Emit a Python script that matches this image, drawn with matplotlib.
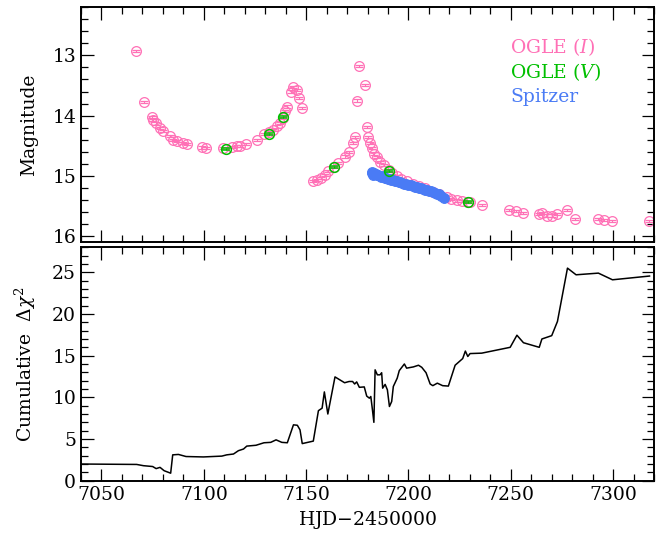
import numpy as np
import matplotlib
matplotlib.use('Agg')
import matplotlib.pyplot as plt
from matplotlib.ticker import MultipleLocator

plt.rcParams['font.family'] = ['DejaVu Serif']
plt.rcParams['mathtext.fontset'] = 'dejavuserif'

pink  = '#ff70b6'
green = '#00c000'
blue  = '#4a7bf5'

# OGLE I-band photometry
t_I = [7066.9, 7070.9, 7074.5, 7075.3, 7076.7, 7078.6, 7080.2, 7083.5, 7084.8, 7087.1,
       7090.0, 7091.7, 7099.0, 7100.9, 7109.3, 7113.6, 7116.1, 7117.7, 7120.5, 7125.9,
       7129.6, 7131.9, 7134.0, 7135.6, 7137.3, 7138.9, 7139.7, 7140.8, 7142.5, 7143.8,
       7145.7, 7146.7, 7147.9, 7153.5, 7155.2, 7157.2, 7159.3, 7160.9, 7163.8, 7165.8,
       7169.0, 7170.7, 7172.8, 7173.8, 7174.7, 7175.7, 7178.6, 7179.9, 7180.4, 7181.3,
       7182.1, 7183.2, 7184.5, 7186.1, 7188.0, 7190.7, 7192.0, 7194.3, 7196.5, 7199.2,
       7202.0, 7205.0, 7208.0, 7212.2, 7215.0, 7218.7, 7221.0, 7223.6, 7226.0, 7229.0,
       7230.1, 7235.8, 7249.3, 7252.6, 7255.9, 7264.0, 7265.1, 7267.6, 7270.0, 7272.8,
       7277.4, 7281.4, 7292.5, 7295.6, 7299.7, 7317.6]
m_I = [12.92, 13.77, 14.03, 14.07, 14.13, 14.21, 14.26, 14.34, 14.40, 14.42,
       14.45, 14.47, 14.53, 14.54, 14.54, 14.52, 14.50, 14.50, 14.47, 14.41,
       14.31, 14.28, 14.24, 14.18, 14.12, 14.04, 13.93, 13.85, 13.60, 13.52,
       13.57, 13.71, 13.88, 15.09, 15.07, 15.03, 14.99, 14.92, 14.85, 14.79,
       14.68, 14.61, 14.46, 14.35, 13.75, 13.17, 13.49, 14.19, 14.36, 14.46,
       14.54, 14.63, 14.69, 14.77, 14.82, 14.90, 14.96, 15.01, 15.05, 15.09,
       15.13, 15.17, 15.21, 15.27, 15.31, 15.36, 15.38, 15.41, 15.42, 15.44,
       15.44, 15.49, 15.57, 15.58, 15.62, 15.64, 15.62, 15.66, 15.66, 15.63,
       15.57, 15.72, 15.72, 15.74, 15.75, 15.75]

# OGLE V-band photometry
t_V = [7110.7, 7131.9, 7138.9, 7163.8, 7190.7, 7229.0]
m_V = [14.55, 14.30, 14.02, 14.86, 14.92, 15.44]

# Spitzer photometry
t_S = [7182.0, 7182.3, 7182.8, 7183.3, 7184.0, 7184.6, 7185.3, 7186.0, 7186.8, 7187.5,
       7188.3, 7189.0, 7190.0, 7190.8, 7191.7, 7192.5, 7193.5, 7194.3, 7195.2, 7196.0,
       7197.0, 7198.0, 7199.0, 7200.0, 7201.0, 7202.0, 7203.0, 7204.0, 7205.0, 7206.0,
       7207.0, 7208.0, 7209.0, 7210.0, 7211.0, 7212.0, 7213.0, 7214.0, 7215.0, 7216.0,
       7217.5]
m_S = [14.95, 14.93, 14.98, 14.95, 14.97, 14.99, 14.98, 15.00, 15.02, 15.01,
       15.03, 15.04, 15.05, 15.06, 15.07, 15.07, 15.09, 15.09, 15.10, 15.11,
       15.12, 15.13, 15.14, 15.15, 15.16, 15.17, 15.18, 15.19, 15.20, 15.21,
       15.22, 15.23, 15.24, 15.25, 15.26, 15.27, 15.28, 15.30, 15.31, 15.33,
       15.37]

mag_err = 0.018

# cumulative delta chi^2
t_chi = [7040.0, 7067.2, 7070.5, 7075.0, 7076.7, 7078.6, 7080.6, 7083.8, 7084.8, 7087.6,
         7091.3, 7099.8, 7108.8, 7111.2, 7114.5, 7116.9, 7119.4, 7121.0, 7125.5, 7129.4,
         7132.7, 7135.3, 7138.1, 7140.8, 7143.8, 7145.7, 7147.0, 7148.1, 7153.5, 7156.0,
         7157.8, 7158.9, 7160.6, 7164.1, 7168.8, 7171.0, 7172.7, 7173.7, 7174.7, 7176.0,
         7178.4, 7179.6, 7180.9, 7181.6, 7182.4, 7183.1, 7183.7, 7184.8, 7186.1, 7186.9,
         7187.4, 7188.6, 7189.7, 7190.7, 7191.8, 7192.6, 7194.5, 7195.5, 7198.0, 7199.1,
         7202.4, 7204.9, 7206.5, 7208.6, 7210.6, 7211.9, 7214.1, 7216.7, 7219.5, 7222.8,
         7226.5, 7227.8, 7229.0, 7230.1, 7235.8, 7249.7, 7253.0, 7256.2, 7263.9, 7265.2,
         7270.0, 7272.8, 7277.7, 7281.9, 7292.8, 7299.7, 7317.8]
chi = [2.0, 1.95, 1.8, 1.7, 1.45, 1.6, 1.2, 0.9, 3.1, 3.15,
       2.9, 2.85, 2.95, 3.1, 3.2, 3.6, 3.8, 4.15, 4.25, 4.55,
       4.6, 4.9, 4.6, 4.55, 6.7, 6.65, 6.1, 4.45, 4.75, 8.4,
       8.7, 10.65, 8.0, 12.45, 11.75, 11.9, 11.9, 11.6, 11.85, 11.2,
       11.25, 10.15, 9.9, 10.1, 8.5, 7.0, 13.3, 12.7, 12.7, 12.95,
       11.1, 11.55, 10.9, 8.9, 9.5, 11.3, 12.3, 13.2, 14.0, 13.5,
       13.65, 13.85, 13.6, 12.95, 11.6, 11.4, 11.7, 11.4, 11.35, 13.85,
       14.65, 15.55, 14.9, 15.25, 15.3, 16.0, 17.45, 16.55, 16.0, 17.0,
       17.4, 19.1, 25.5, 24.7, 24.9, 24.1, 24.55]

fig = plt.figure(figsize=(6.68, 5.35), dpi=100)
ax1 = fig.add_axes([0.1213, 0.5477, 0.8578, 0.4387])
ax2 = fig.add_axes([0.1213, 0.1015, 0.8578, 0.4363])

for ax in (ax1, ax2):
    ax.tick_params(which='both', direction='in', top=True, right=True, labelsize=13.5, width=0.9)
    ax.tick_params(which='major', length=9)
    ax.tick_params(which='minor', length=4.8)
    ax.xaxis.set_major_locator(MultipleLocator(50))
    ax.xaxis.set_minor_locator(MultipleLocator(10))
    for s in ax.spines.values():
        s.set_linewidth(1.4)
    ax.set_xlim(7040, 7320)

ax1.errorbar(t_I, m_I, yerr=mag_err, fmt='o', ms=7, mfc='none', mec=pink, mew=0.9,
             ecolor=pink, elinewidth=0.8, capsize=2.8, capthick=0.8)
ax1.errorbar(t_S, m_S, yerr=mag_err, fmt='o', ms=7, mfc=blue, mec=blue, mew=0.8,
             ecolor=blue, elinewidth=0.8, capsize=2.0, zorder=3)
ax1.errorbar(t_V, m_V, yerr=mag_err, fmt='o', ms=7, mfc='none', mec=green, mew=1.1,
             ecolor=green, elinewidth=0.8, capsize=2.8, capthick=0.8, zorder=4)
ax1.set_ylim(16.1, 12.2)
ax1.yaxis.set_major_locator(MultipleLocator(1))
ax1.yaxis.set_minor_locator(MultipleLocator(0.2))
ax1.set_xticklabels([])
ax1.set_ylabel('Magnitude', fontsize=13.5, labelpad=10)

ax1.text(0.749, 0.83, 'OGLE ($I$)', color=pink, fontsize=13.5, va='center', transform=ax1.transAxes)
ax1.text(0.749, 0.723, 'OGLE ($V$)', color=green, fontsize=13.5, va='center', transform=ax1.transAxes)
ax1.text(0.749, 0.617, 'Spitzer', color=blue, fontsize=13.5, va='center', transform=ax1.transAxes)

ax2.plot(t_chi, chi, color='black', lw=1.1)
ax2.set_ylim(0, 28)
ax2.yaxis.set_major_locator(MultipleLocator(5))
ax2.yaxis.set_minor_locator(MultipleLocator(1))
ax2.set_xlabel('HJD$-$2450000', fontsize=13.5)
ax2.set_ylabel(r'Cumulative  $\Delta\chi^2$', fontsize=13.5, labelpad=10)

fig.align_ylabels([ax1, ax2])
fig.savefig('out.png', dpi=100)
